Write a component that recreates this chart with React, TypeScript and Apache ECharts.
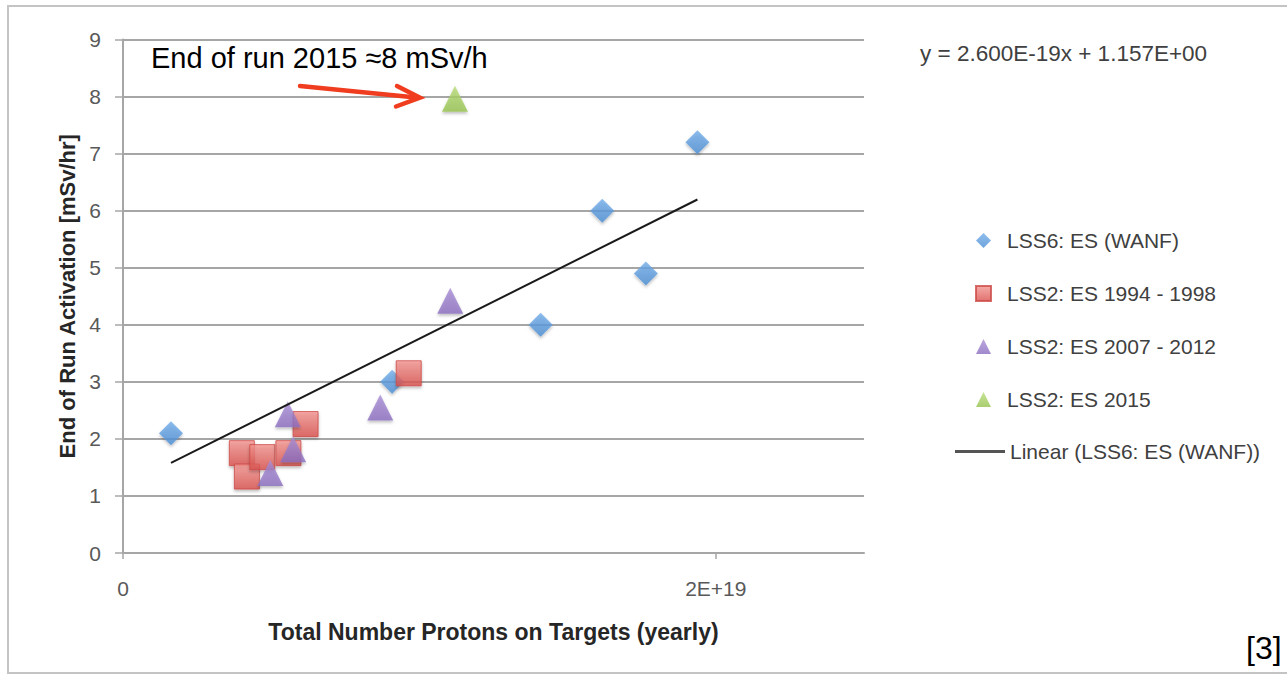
import React, { useEffect, useRef } from "react";
import * as echarts from "echarts";

const FONT = "'Liberation Sans', Arial, sans-serif";

// LSS6: ES (WANF)
const blueX = [1.62e18, 9.08e18, 1.409e19, 1.617e19, 1.764e19, 1.938e19];
const blueY = [2.1, 3.0, 4.0, 6.0, 4.9, 7.2];
// LSS2: ES 1994 - 1998
const redX = [4.01e18, 4.18e18, 4.7e18, 5.58e18, 6.16e18, 9.64e18];
const redY = [1.75, 1.34, 1.68, 1.75, 2.26, 3.15];
// LSS2: ES 2007 - 2012
const purpleX = [5.56e18, 5.74e18, 4.97e18, 8.68e18, 1.104e19];
const purpleY = [2.43, 1.82, 1.4, 2.55, 4.42];
// LSS2: ES 2015
const greenX = [1.12e19];
const greenY = [7.96];

// Linear trendline of LSS6 series
const trendSlope = 2.6e-19;
const trendIntercept = 1.157;

const seriesNames = [
  "LSS6: ES (WANF)",
  "LSS2: ES 1994 - 1998",
  "LSS2: ES 2007 - 2012",
  "LSS2: ES 2015",
  "Linear (LSS6: ES (WANF))",
];

const xTicks = [0, 2e19];
const yTicks = [0, 1, 2, 3, 4, 5, 6, 7, 8, 9];

const zip = (xs: number[], ys: number[]) => xs.map((x, i) => [x, ys[i]]);

const fmtX = (v: number) => {
  if (v === 0) return "0";
  const e = Math.floor(Math.log10(Math.abs(v)));
  const m = Math.round((v / Math.pow(10, e)) * 100) / 100;
  return `${m}E+${e}`;
};

const grad = (top: string, bottom: string) =>
  new echarts.graphic.LinearGradient(0, 0, 0, 1, [
    { offset: 0, color: top },
    { offset: 1, color: bottom },
  ]);

const shadow = {
  shadowBlur: 3,
  shadowOffsetY: 2,
  shadowColor: "rgba(0,0,0,0.3)",
};

export default function App() {
  const ref = useRef<HTMLDivElement>(null);
  useEffect(() => {
    document.body.style.margin = "0";
    if (!ref.current) return;
    const chart = echarts.init(ref.current, undefined, { renderer: "svg" });
    const tMin = Math.min(...blueX);
    const tMax = Math.max(...blueX);
    const trend = [
      [tMin, trendSlope * tMin + trendIntercept],
      [tMax, trendSlope * tMax + trendIntercept],
    ];
    const legendText = { fontSize: 21, color: "#404040", fontFamily: FONT };
    chart.setOption({
      animation: false,
      backgroundColor: "#ffffff",
      textStyle: { fontFamily: FONT },
      grid: { left: 123, right: 423, top: 39.5, bottom: 122, containLabel: false },
      xAxis: {
        type: "value",
        min: 0,
        max: 2.5e19,
        interval: 2e19,
        name: "Total Number Protons on Targets (yearly)",
        nameLocation: "middle",
        nameGap: 67,
        nameTextStyle: { fontSize: 23, fontWeight: "bold", color: "#262626", fontFamily: FONT },
        axisLine: { show: true, lineStyle: { color: "#a6a6a6", width: 2 } },
        axisTick: { show: true, length: 6, lineStyle: { color: "#a6a6a6", width: 1.5 }, customValues: xTicks },
        axisLabel: {
          fontSize: 21,
          color: "#595959",
          margin: 25,
          fontFamily: FONT,
          customValues: xTicks,
          formatter: (v: number) => fmtX(v),
        },
        splitLine: { show: false },
      },
      yAxis: {
        type: "value",
        min: 0,
        max: 9,
        interval: 1,
        name: "End of Run Activation [mSv/hr]",
        nameLocation: "middle",
        nameGap: 44,
        nameTextStyle: { fontSize: 22, fontWeight: "bold", color: "#262626", fontFamily: FONT },
        axisLine: { show: true, lineStyle: { color: "#a6a6a6", width: 2 } },
        axisTick: { show: true, length: 8, lineStyle: { color: "#a6a6a6", width: 1.5 }, customValues: yTicks },
        axisLabel: { fontSize: 21, color: "#595959", margin: 22, fontFamily: FONT, customValues: yTicks },
        splitLine: { show: true, lineStyle: { color: "#a6a6a6", width: 2 } },
      },
      legend: [
        {
          orient: "vertical",
          left: 970,
          top: 225,
          itemWidth: 15,
          itemHeight: 15,
          itemGap: 32,
          textStyle: { ...legendText, padding: [0, 0, 0, 11] },
          data: seriesNames.slice(0, 4),
        },
        {
          orient: "vertical",
          left: 950,
          top: 436,
          itemWidth: 50,
          itemHeight: 3,
          textStyle: { ...legendText, padding: [0, 0, 0, 0] },
          data: [{ name: seriesNames[4], icon: "rect", itemStyle: { color: "#555555" } }],
        },
      ],
      series: [
        {
          name: seriesNames[0],
          type: "scatter",
          symbol: "diamond",
          symbolSize: 24,
          itemStyle: { color: grad("#73aeea", "#4a8cd2"), ...shadow },
          data: zip(blueX, blueY),
          z: 2,
        },
        {
          name: seriesNames[1],
          type: "scatter",
          symbol: "rect",
          symbolSize: 25,
          itemStyle: { color: grad("#f39591", "#d9504c"), borderColor: "#cc4a46", borderWidth: 1, ...shadow },
          data: zip(redX, redY),
          z: 3,
        },
        {
          name: seriesNames[2],
          type: "scatter",
          symbol: "triangle",
          symbolSize: 26,
          itemStyle: { color: grad("#a98fd6", "#8a6cbf"), ...shadow },
          data: zip(purpleX, purpleY),
          z: 4,
        },
        {
          name: seriesNames[3],
          type: "scatter",
          symbol: "triangle",
          symbolSize: 26,
          itemStyle: { color: grad("#b8dc78", "#95c24e"), ...shadow },
          data: zip(greenX, greenY),
          z: 5,
        },
        {
          name: seriesNames[4],
          type: "line",
          symbol: "none",
          lineStyle: { color: "#1a1a1a", width: 2 },
          itemStyle: { color: "#555555" },
          data: trend,
          z: 6,
        },
      ],
      graphic: [
        {
          type: "rect",
          z: -10,
          silent: true,
          shape: { x: 8, y: 6, width: 1300, height: 667 },
          style: { fill: "none", stroke: "#c4c4c4", lineWidth: 2 },
        },
        {
          type: "text",
          left: 151,
          top: 43,
          z: 20,
          style: { text: "End of run 2015 ≈8 mSv/h", fontSize: 29, fill: "#000000", fontFamily: FONT },
        },
        {
          type: "line",
          z: 20,
          shape: { x1: 300, y1: 86, x2: 416, y2: 97.4 },
          style: { stroke: "#f03c1f", lineWidth: 4.5, lineCap: "round" },
        },
        {
          type: "polyline",
          z: 20,
          shape: { points: [[397, 86], [420, 97.7], [396, 106.5]] },
          style: { stroke: "#f03c1f", lineWidth: 4.5, fill: "none", lineJoin: "miter", lineCap: "round" },
        },
        {
          type: "text",
          left: 920,
          top: 42,
          z: 20,
          style: { text: "y = 2.600E-19x + 1.157E+00", fontSize: 22.5, fill: "#404040", fontFamily: FONT },
        },
        {
          type: "text",
          left: 1246,
          top: 632,
          z: 20,
          style: { text: "[3]", fontSize: 32, fill: "#000000", fontFamily: FONT },
        },
      ],
    });
    return () => chart.dispose();
  }, []);
  return <div ref={ref} style={{ width: 1287, height: 675 }} />;
}
